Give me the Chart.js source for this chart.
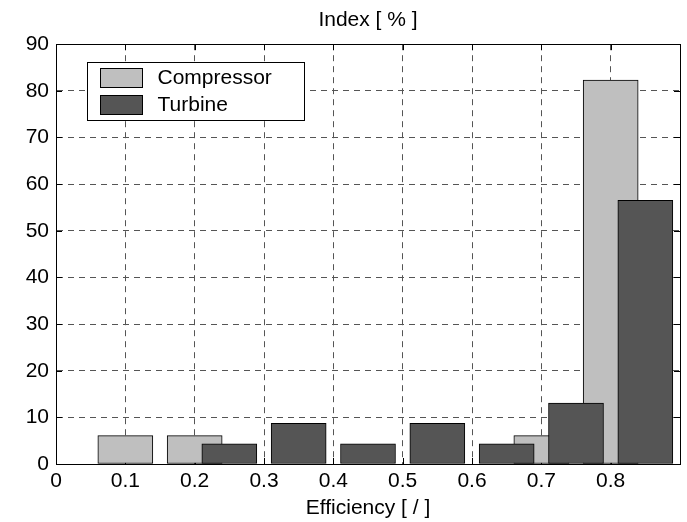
<!DOCTYPE html>
<html>
<head>
<meta charset="utf-8">
<title>Efficiency histogram</title>
<script src="https://cdn.jsdelivr.net/npm/chart.js@4.4.1/dist/chart.umd.min.js"></script>
<style>
  html, body { margin: 0; padding: 0; background: #fff; }
  canvas { display: block; }
</style>
</head>
<body>
<canvas id="chart" width="687" height="522"></canvas>
<script>
// bin centres (efficiency) and share of units in each bin, in percent
const compressorEff = [0.1, 0.2, 0.7, 0.8];
const compressorPct = [6.1, 6.1, 6.1, 82.3];
const turbineEff = [0.25, 0.35, 0.45, 0.55, 0.65, 0.75, 0.85];
const turbinePct = [4.35, 8.7, 4.35, 8.7, 4.35, 13.04, 56.52];

const xTickLabels = ['0', '0.1', '0.2', '0.3', '0.4', '0.5', '0.6', '0.7', '0.8'];
const yTickLabels = ['0', '10', '20', '30', '40', '50', '60', '70', '80', '90'];

const FONT = 'Liberation Sans, Arial, sans-serif';
const FONT_SIZE = 21;
Chart.defaults.font.family = FONT;
Chart.defaults.font.size = FONT_SIZE;
Chart.defaults.color = '#000';

const toPoints = (xs, ys) => xs.map((x, i) => ({ x: x, y: ys[i] }));

// matlab-style box: solid frame, inward ticks and a boxed legend inside the axes
const axesBox = {
  id: 'axesBox',
  beforeDatasetsDraw(chart) {
    const { ctx, chartArea: a, scales: { x, y } } = chart;
    const len = 6;
    ctx.save();
    ctx.strokeStyle = '#000';
    ctx.lineWidth = 1;
    ctx.beginPath();
    x.ticks.forEach((t) => {
      const px = Math.round(x.getPixelForValue(t.value)) + 0.5;
      ctx.moveTo(px, a.bottom); ctx.lineTo(px, a.bottom - len);
      ctx.moveTo(px, a.top); ctx.lineTo(px, a.top + len);
    });
    y.ticks.forEach((t) => {
      const py = Math.round(y.getPixelForValue(t.value)) + 0.5;
      ctx.moveTo(a.left, py); ctx.lineTo(a.left + len, py);
      ctx.moveTo(a.right, py); ctx.lineTo(a.right - len, py);
    });
    ctx.stroke();
    ctx.restore();
  },
  afterDatasetsDraw(chart) {
    const { ctx, chartArea: a } = chart;
    ctx.save();
    ctx.strokeStyle = '#000';
    ctx.lineWidth = 1;
    const l = Math.round(a.left) + 0.5, t = Math.round(a.top) + 0.5;
    const r = Math.round(a.right) + 0.5, b = Math.round(a.bottom) + 0.5;
    ctx.strokeRect(l, t, r - l, b - t);

    // legend
    const bx = l + 31, by = t + 18, bw = 217, bh = 58;
    ctx.fillStyle = '#fff';
    ctx.fillRect(bx, by, bw, bh);
    ctx.strokeRect(bx, by, bw, bh);
    ctx.font = FONT_SIZE + 'px ' + FONT;
    ctx.textBaseline = 'middle';
    ctx.textAlign = 'left';
    chart.data.datasets.forEach((ds, i) => {
      const sy = by + 6 + i * 27;
      ctx.fillStyle = ds.backgroundColor;
      ctx.fillRect(bx + 13, sy, 42, 19);
      ctx.strokeStyle = '#000';
      ctx.strokeRect(bx + 13, sy, 42, 19);
      ctx.fillStyle = '#000';
      ctx.fillText(ds.label, bx + 70, sy + 10);
    });
    ctx.restore();
  }
};

new Chart(document.getElementById('chart'), {
  type: 'bar',
  data: {
    datasets: [
      {
        label: 'Compressor',
        data: toPoints(compressorEff, compressorPct),
        backgroundColor: '#bfbfbf',
        order: 1
      },
      {
        label: 'Turbine',
        data: toPoints(turbineEff, turbinePct),
        backgroundColor: '#555555',
        order: 0
      }
    ]
  },
  options: {
    responsive: false,
    animation: false,
    layout: { padding: { left: 0, right: 7, top: 0, bottom: 0 } },
    datasets: {
      bar: {
        grouped: false,
        barThickness: 55,
        borderColor: '#000',
        borderWidth: 1,
        borderSkipped: false
      }
    },
    plugins: {
      legend: { display: false },
      tooltip: { enabled: false },
      title: {
        display: true,
        text: 'Index [ % ]',
        fullSize: false,
        color: '#000',
        font: { size: FONT_SIZE, weight: 'normal', lineHeight: 1.2 },
        padding: { top: 8, bottom: 11 }
      }
    },
    scales: {
      x: {
        type: 'linear',
        min: 0,
        max: 0.9,
        offset: false,
        ticks: {
          stepSize: 0.1,
          autoSkip: false,
          maxRotation: 0,
          padding: 5,
          callback: (v, i) => xTickLabels[i] ?? ''
        },
        grid: { offset: false, color: '#555', lineWidth: 1, drawTicks: false },
        border: { display: true, color: '#000', width: 1, dash: [6, 5] },
        title: {
          display: true,
          text: 'Efficiency [ / ]',
          font: { size: FONT_SIZE },
          padding: { top: 0, bottom: 1 }
        },
        afterFit: (scale) => { scale.height = 58; }
      },
      y: {
        min: 0,
        max: 90,
        ticks: {
          stepSize: 10,
          padding: 7,
          callback: (v, i) => yTickLabels[i] ?? ''
        },
        grid: { color: '#555', lineWidth: 1, drawTicks: false },
        border: { display: true, color: '#000', width: 1, dash: [6, 5] },
        afterFit: (scale) => { scale.width = 56; }
      }
    }
  },
  plugins: [axesBox]
});
</script>
</body>
</html>
